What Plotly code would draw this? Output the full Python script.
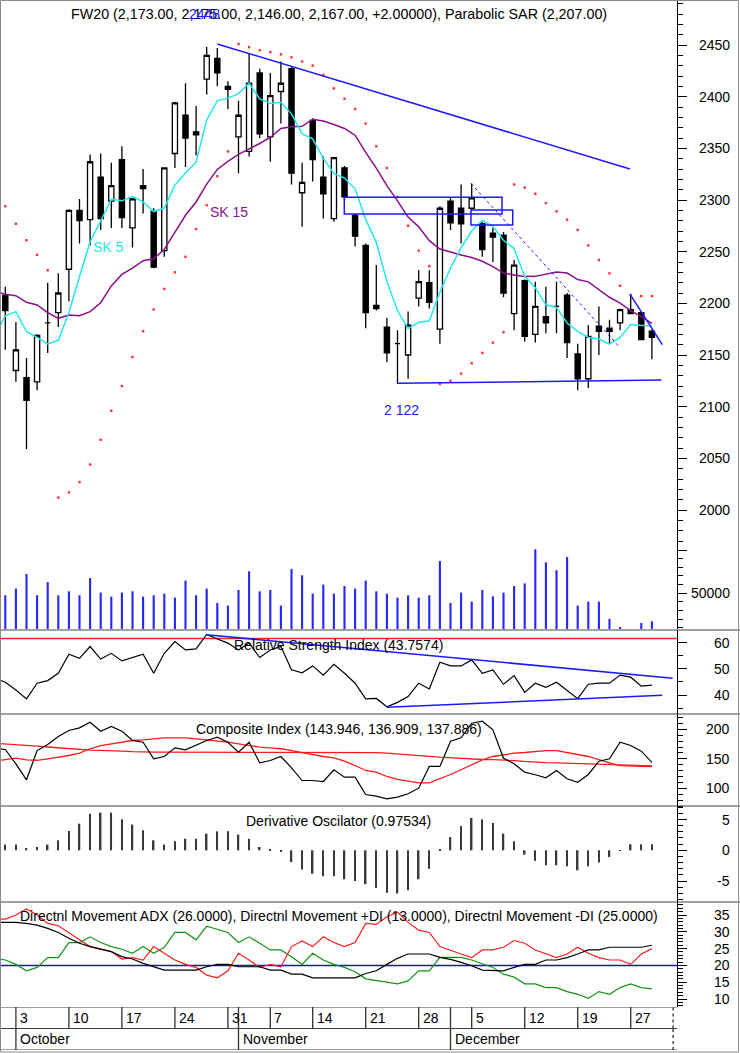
import plotly.graph_objects as go

W, H = 740, 1053
PLOT_W = 677

# ---------------- data ----------------
days = list(range(62))
line_days = list(range(-1, 62))

opens = [2208,2135,2128,2124,2181,2191,2233,2290,2281,2322,2299,2339,2273,2314,2289,2251,2345,2382,2366,2417,
         2437,2410,2361,2347,2423,2361,2405,2427,2307,2377,2322,2282,2331,2285,2256,2198,2177,2161,2150,2205,
         2220,2175,2299,2292,2292,2277,2268,2266,2190,2222,2170,2187,2197,2208,2151,2127,2178,2176,2181,2194,2191,2173]
highs = [2216,2182,2147,2170,2220,2229,2291,2301,2344,2345,2336,2352,2302,2330,2292,2331,2395,2413,2391,2448,
         2447,2415,2396,2442,2427,2423,2434,2429,2336,2379,2342,2341,2333,2287,2258,2237,2186,2174,2192,2232,
         2232,2294,2303,2315,2316,2279,2273,2269,2242,2223,2221,2216,2221,2210,2161,2179,2197,2184,2195,2209,2192,2175]
lows = [2155,2124,2059,2116,2152,2177,2202,2258,2256,2271,2273,2273,2254,2287,2234,2245,2331,2332,2343,2402,
        2410,2388,2326,2342,2360,2337,2374,2315,2274,2318,2282,2279,2300,2255,2176,2193,2143,2122,2127,2197,
        2195,2161,2271,2258,2290,2245,2240,2206,2174,2163,2162,2171,2171,2147,2116,2118,2150,2161,2174,2190,2165,2146]
closes = [2193,2155,2106,2169,2181,2210,2290,2280,2337,2282,2314,2283,2301,2311,2235,2331,2394,2360,2363,2440,
          2423,2407,2382,2413,2364,2401,2413,2326,2317,2339,2306,2341,2303,2265,2191,2195,2152,2161,2179,2221,
          2201,2292,2278,2277,2302,2252,2264,2210,2237,2168,2197,2181,2197,2162,2127,2168,2173,2173,2194,2190,2165,2167]

sk5 = [2168,2188,2192,2172.5,2167,2160.8,2164.2,2191.2,2226,2259.6,2279.8,2300.6,2299.2,2303.4,2298.2,2288.8,
       2292.2,2314.4,2326.2,2336.6,2377.6,2396,2398.6,2403,2413,2397.8,2393.4,2394.6,2383.4,2364.2,2359.2,2340.2,
       2325.8,2321.2,2310.8,2281.2,2259,2221.2,2192.8,2175.6,2181.6,2182.8,2210.8,2234.2,2253.8,2270,2280.2,
       2274.6,2261,2253,2226.2,2215.2,2198.6,2196,2181,2172.8,2167,2165.4,2160.6,2167,2179.6,2179,2177.8]
sk15 = [2212,2208.7,2207.4,2201,2198.4,2191,2185.5,2188.7,2188,2192,2200.6,2216.8,2228,2234,2241.3,2243.1,
        2252.3,2268.3,2285.2,2298.1,2315.4,2329.6,2337.4,2344.2,2349.3,2354.7,2360.5,2369.2,2370.9,2371.3,2378.2,
        2376.5,2373,2369.2,2362.7,2346.1,2330.9,2313.9,2299.1,2283.5,2274,2260.7,2252.6,2249.4,2246.7,2244.3,
        2240.7,2235.5,2229.3,2227.5,2225.9,2226.1,2228,2230.4,2229.3,2223,2220.8,2212.9,2205.9,2200.3,2192.9,2187.1,2180.6]
sar = [2294,2277,2261,2247,2232,2012,2017,2027,2044,2068,2096,2120,2148,2173,2194,2214,2230,2245,2272,2295,
       2323,2347,2451,2448,2445,2443,2441,2438,2434,2430,2421,2408,2398,2388,2374,2352,2331,2303,2275,2251,
       2236,2122,2125,2132,2142,2152,2162,2172,2315,2312,2306,2297,2289,2281,2271,2256,2242,2229,2217,2208,2207,2207]
volume = [47700,55400,72300,47700,63000,47700,52300,47700,67600,50800,46200,50800,52300,46200,47700,49600,
          45000,64600,47700,55400,38800,35800,53800,75400,52300,53800,35800,78100,70800,49600,60000,49600,
          58400,55400,64600,52300,49600,45000,47700,45000,47700,87300,38800,50800,40400,53800,46500,50800,
          58400,61500,100800,85800,76600,91900,35800,40400,40400,20400,11100,0,15700,17700]

rsi = [46.5,44.9,41.9,38.5,44.5,45.5,48.3,55.6,54.0,58.5,53.7,55.9,53.0,54.3,55.6,48.3,55.9,60.4,57.2,57.6,
       63.1,61.4,59.8,57.2,59.8,54.3,57.2,58.5,49.6,48.5,51.1,47.6,51.7,48.3,44.5,38.5,38.7,35.5,37.2,39.4,
       44.5,42.3,52.5,51.1,51.1,53.4,48.3,49.6,44.1,47.4,41.0,44.5,42.9,44.9,41.9,38.6,44.1,44.5,44.5,47.6,
       46.8,43.4,43.76]
rsi_level = 61.6

ci = [168,165.8,141.5,114.4,164,174.2,187.8,198,202.5,212,196.8,204.7,196.8,181,178.1,150,153.9,168.6,165.3,
      172.5,181,186.6,178.1,161.2,178.1,143.2,147.1,153.9,134.7,113.2,113.2,111.5,131.4,118.8,118.8,89.5,86.6,
      82.2,85,90.7,100.2,137,137,179.8,185.6,210.3,213.7,199.2,151,141.5,127.3,122.9,117.8,130.2,116.1,110.3,
      123.4,145.9,150,178.1,172.5,162.9,143.95]
ci_slow = [176.5,175.5,174,172.5,171.5,170,168.6,167,165.3,164.8,164.3,164,163,162,161.2,161.2,161.2,161.2,
           161.2,161.2,161.2,161.5,161.5,161.5,161.5,161.5,161.5,161.5,161.3,161.2,161,161,160.8,160.7,160.7,
           160.7,160.5,159.5,158.4,157.3,155.8,154.2,152.7,151.5,150.3,149.3,148.8,148.5,148.3,147,145.6,144.2,
           143.6,143,142.5,141.6,140.7,139.8,139.4,139,138.6,138.3,137.89]
ci_fast = [146,148,151,148.3,147.5,150,152.7,155.6,159.5,167,172.5,175.4,179.3,181,182.2,183.9,185.6,185.6,
           185.6,183.9,182.2,181,178.1,175.4,172.5,169.7,168.5,167,164,160.2,157.3,153.9,151.7,146,138.6,130.2,
           127.3,120,115,111.5,109.3,109.3,116.1,123.4,131.4,139.8,148.3,153.9,157.3,159.5,160.7,162.4,164,164,
           161.2,157.3,153.9,148.3,143.2,138.6,137.5,137.2,136.91]

deriv = [0.93,0.93,0.38,0.54,0.93,1.62,3.14,4.33,5.95,6.12,6.12,5.03,4.17,3.25,1.62,0.93,1.46,1.89,1.89,2.7,
         3.08,3.08,2.54,1.89,0.54,0.1,-0.2,-1.9,-3.1,-3.8,-4.2,-4.2,-4.7,-5.0,-5.5,-6.1,-6.9,-7.0,-6.5,-4.7,
         -3.0,0.15,2.16,3.95,5.25,5.03,4.44,2.7,1.46,-0.7,-1.73,-2.43,-2.43,-2.6,-3.25,-2.6,-2.0,-1.08,-0.1,0.97,
         0.97,0.975]

adx = [32.8,32.8,32.8,32.5,32.0,31.0,29.8,28.1,26.6,25.6,24.9,24.1,22.6,21.9,20.6,19.6,18.6,18.6,18.6,18.6,
       19.6,20.3,20.3,19.6,19.6,19.6,18.6,18.6,17.4,17.4,16.3,16.3,16.3,16.3,16.3,17.6,18.4,20.3,22.1,23.4,
       23.4,23.4,22.4,21.8,20.9,19.9,18.6,18.4,18.4,19.4,20.3,20.3,21.6,21.6,22.3,23.4,24.6,24.6,25.4,25.4,
       25.4,25.4,26.0]
minus_di = [33.8,33.8,35.0,36.8,35.0,32.5,31.8,29.6,27.6,25.6,24.9,24.1,21.9,22.3,21.6,25.6,23.6,21.6,20.3,
            19.4,17.1,16.3,18.4,23.6,21.6,19.4,20.3,19.6,25.6,27.3,25.6,28.5,26.8,25.6,26.8,32.5,32.2,34.5,35.8,
            32.8,30.5,29.8,25.6,24.6,23.4,22.3,24.6,24.6,25.4,27.4,26.6,24.6,23.4,22.3,23.4,25.4,23.6,22.3,21.6,
            21.6,20.3,23.4,25.0]
plus_di = [22.2,21.6,20.3,18.4,19.4,22.3,22.3,26.8,26.8,28.5,26.8,25.6,24.8,23.6,25.6,23.6,25.4,29.8,29.8,
           27.6,31.7,30.8,29.8,26.8,28.5,26.6,24.6,24.6,22.6,20.3,23.6,21.6,20.3,19.4,18.1,16.0,15.5,15.2,14.5,
           15.4,18.4,18.4,22.4,22.4,22.4,21.6,20.6,19.4,17.4,16.5,14.5,14.5,13.4,13.4,12.2,11.4,10.2,12.2,11.4,
           13.4,14.5,13.4,13.0]
dmi_level = 20

week_ticks = [1, 6, 11, 16, 21, 25, 29, 34, 39, 44, 49, 54, 59, 63]
week_labels = ['3', '10', '17', '24', '31', '7', '14', '21', '28', '5', '12', '19', '27', '']
month_ticks = [1, 22, 42, 63]
month_labels = ['October', 'November', 'December', '']

price_ticks = [2000, 2050, 2100, 2150, 2200, 2250, 2300, 2350, 2400, 2450]
vol_ticks = [50000, 100000]
vol_labels = ['50000', '']
rsi_ticks = [40, 50, 60]
ci_ticks = [100, 150, 200]
deriv_ticks = [-5, 0, 5]
dmi_ticks = [10, 15, 20, 25, 30, 35]

# hand-drawn analysis objects (data coordinates)
price_trendlines = [(20.0, 2451, 58.93, 2330), (36.98, 2122.6, 61.9, 2125.8), (58.93, 2209, 61.98, 2160)]
price_dotted = [(43.93, 2316, 58.0, 2157)]
price_boxes = [(31.98, 2302.6, 46.86, 2286.5), (43.93, 2290.3, 47.87, 2275.8)]
rsi_trendlines = [(18.96, 63.0, 62.96, 46.4), (35.98, 35.3, 61.98, 39.9)]
high_label = (18.8, '2448')
low_label = (37.4, 2096.8, '2 122')
sk5_label = (9.7, 2254.5, 'SK 5')
sk15_label = (21.1, 2288.4, 'SK 15')

title_text = 'FW20 (2,173.00, 2,175.00, 2,146.00, 2,167.00, +2.00000), Parabolic SAR (2,207.00)'
rsi_title = 'Relative Strength Index (43.7574)'
ci_title = 'Composite Index (143.946, 136.909, 137.886)'
deriv_title = 'Derivative Oscilator (0.97534)'
dmi_title = ('Directnl Movement ADX (26.0000), Directnl Movement +DI (13.0000), '
             'Directnl Movement -DI (25.0000)')

# ---------------- styling / layout helpers ----------------
FONT = 'Liberation Sans, Arial, sans-serif'
BLUE = '#1a1aff'


def pyf(px):
    return 1 - px / H


def dom(top, bottom):
    return [1 - bottom / H, 1 - top / H]


def yaxis(top, bottom, rng, majors, minor_dtick, line=True):
    return dict(domain=dom(top, bottom), range=rng, anchor='x', side='right',
                showgrid=False, zeroline=False, showline=line, linecolor='black', linewidth=1,
                ticks='outside' if line else '', ticklen=9, tickwidth=1, tickcolor='black',
                tickmode='array', tickvals=majors, showticklabels=False, fixedrange=True,
                minor=dict(ticks='outside' if line else '', ticklen=5, tickwidth=1, tickcolor='black',
                           tickmode='linear', tick0=0, dtick=minor_dtick))


# pixel calibrations of each panel
price_rng = [2450 - (540 - 45) / (465 / 450), 2450 + 45 / (465 / 450)]
vol_rng = [50000 - (629 - 593.3) / 0.000866, 50000 + (593.3 - 540) / 0.000866]
rsi_rng = [60 - (714 - 642.6) / 2.62, 60 + (642.6 - 630) / 2.62]
ci_rng = [200 - (806 - 729.3) / 0.59, 200 + (729.3 - 714) / 0.59]
der_rng = [-(902 - 850.3) / 6.16, (850.3 - 806) / 6.16]
dmi_rng = [10 - (1007 - 999) / 3.36, 10 + (999 - 902) / 3.36]
x_rng = [-0.5, (PLOT_W - 5.3) / 10.6]

fig = go.Figure()

# price panel
fig.add_trace(go.Candlestick(
    x=days, open=opens, high=highs, low=lows, close=closes, whiskerwidth=0,
    increasing=dict(line=dict(color='black', width=1.3), fillcolor='white'),
    decreasing=dict(line=dict(color='black', width=1.3), fillcolor='black'),
    xaxis='x', yaxis='y', showlegend=False, hoverinfo='skip'))
fig.add_trace(go.Scatter(x=line_days, y=sk15, mode='lines', line=dict(color='#8b108b', width=1.5),
                         xaxis='x', yaxis='y', showlegend=False, hoverinfo='skip'))
fig.add_trace(go.Scatter(x=line_days, y=sk5, mode='lines', line=dict(color='#22e8ee', width=1.5),
                         xaxis='x', yaxis='y', showlegend=False, hoverinfo='skip'))
fig.add_trace(go.Scatter(x=days, y=sar, mode='markers',
                         marker=dict(color='#ff3030', size=2.4, symbol='square', line=dict(width=0)),
                         xaxis='x', yaxis='y', showlegend=False, hoverinfo='skip'))

# volume
fig.add_trace(go.Bar(x=days, y=volume, width=0.2, marker=dict(color='#2626ff', line=dict(width=0)),
                     xaxis='x', yaxis='y2', showlegend=False, hoverinfo='skip'))

# RSI
fig.add_trace(go.Scatter(x=line_days, y=rsi, mode='lines', line=dict(color='black', width=1.2),
                         xaxis='x', yaxis='y3', showlegend=False, hoverinfo='skip'))

# Composite index
fig.add_trace(go.Scatter(x=line_days, y=ci_slow, mode='lines', line=dict(color='#ff1a1a', width=1.3),
                         xaxis='x', yaxis='y4', showlegend=False, hoverinfo='skip'))
fig.add_trace(go.Scatter(x=line_days, y=ci_fast, mode='lines', line=dict(color='#ff1a1a', width=1.3),
                         xaxis='x', yaxis='y4', showlegend=False, hoverinfo='skip'))
fig.add_trace(go.Scatter(x=line_days, y=ci, mode='lines', line=dict(color='black', width=1.2),
                         xaxis='x', yaxis='y4', showlegend=False, hoverinfo='skip'))

# Derivative oscillator
fig.add_trace(go.Bar(x=days, y=deriv, width=0.14, marker=dict(color='#3a3a3a', line=dict(width=0)),
                     xaxis='x', yaxis='y5', showlegend=False, hoverinfo='skip'))

# DMI
fig.add_trace(go.Scatter(x=line_days, y=plus_di, mode='lines', line=dict(color='#149414', width=1.2),
                         xaxis='x', yaxis='y6', showlegend=False, hoverinfo='skip'))
fig.add_trace(go.Scatter(x=line_days, y=minus_di, mode='lines', line=dict(color='#ff1a1a', width=1.2),
                         xaxis='x', yaxis='y6', showlegend=False, hoverinfo='skip'))
fig.add_trace(go.Scatter(x=line_days, y=adx, mode='lines', line=dict(color='black', width=1.2),
                         xaxis='x', yaxis='y6', showlegend=False, hoverinfo='skip'))

shapes = []
# level lines
shapes.append(dict(type='line', xref='paper', x0=0, x1=1, yref='y3', y0=rsi_level, y1=rsi_level,
                   line=dict(color='#ff2020', width=1.5), layer='below'))
shapes.append(dict(type='line', xref='paper', x0=0, x1=1, yref='y6', y0=dmi_level, y1=dmi_level,
                   line=dict(color='#1010e0', width=1.5), layer='below'))
# drawn trendlines
for x0, y0, x1, y1 in price_trendlines:
    shapes.append(dict(type='line', xref='x', yref='y', x0=x0, y0=y0, x1=x1, y1=y1,
                       line=dict(color=BLUE, width=1.5)))
for x0, y0, x1, y1 in price_dotted:
    shapes.append(dict(type='line', xref='x', yref='y', x0=x0, y0=y0, x1=x1, y1=y1,
                       line=dict(color=BLUE, width=1, dash='dot')))
for x0, y0, x1, y1 in price_boxes:
    shapes.append(dict(type='rect', xref='x', yref='y', x0=x0, y0=y0, x1=x1, y1=y1,
                       line=dict(color=BLUE, width=1.5), fillcolor='rgba(0,0,0,0)'))
for x0, y0, x1, y1 in rsi_trendlines:
    shapes.append(dict(type='line', xref='x', yref='y3', x0=x0, y0=y0, x1=x1, y1=y1,
                       line=dict(color=BLUE, width=1.5)))

# panel separators
for px in [630, 714, 806, 902]:
    shapes.append(dict(type='line', xref='paper', x0=0, x1=W / PLOT_W, yref='paper', y0=pyf(px), y1=pyf(px),
                       line=dict(color='#404040', width=1)))
# date rows
for yv in [2, 1, 0]:
    shapes.append(dict(type='line', xref='paper', x0=0, x1=1, yref='y7', y0=yv, y1=yv,
                       line=dict(color='#404040', width=1)))
for t, lab in zip(week_ticks, week_labels):
    shapes.append(dict(type='line', xref='x', x0=t, x1=t, yref='y7', y0=1, y1=2,
                       line=dict(color='#303030', width=1.3, dash='solid' if lab else 'dot')))
for t, lab in zip(month_ticks, month_labels):
    shapes.append(dict(type='line', xref='x', x0=t, x1=t, yref='y7', y0=0, y1=1 if t in week_ticks else 2,
                       line=dict(color='#303030', width=1.3, dash='solid' if lab else 'dot')))
# outer border
shapes.append(dict(type='rect', xref='paper', yref='paper', x0=0.5 / PLOT_W, x1=738.5 / PLOT_W,
                   y0=pyf(1052), y1=pyf(0.5), line=dict(color='#8a8a8a', width=1)))

annotations = []


def txt(text, x, y, xref, yref, color='black', size=14, xanchor='center'):
    annotations.append(dict(text=text, x=x, y=y, xref=xref, yref=yref, showarrow=False,
                            xanchor=xanchor, yanchor='middle',
                            font=dict(family=FONT, size=size, color=color)))


# right-hand tick labels (right aligned)
LX = 732 / PLOT_W
for v in price_ticks:
    txt(str(v), LX, v, 'paper', 'y', xanchor='right')
for v, lab in zip(vol_ticks, vol_labels):
    if lab:
        txt(lab, LX, v, 'paper', 'y2', xanchor='right')
for v in rsi_ticks:
    txt(str(v), LX, v, 'paper', 'y3', xanchor='right')
for v in ci_ticks:
    txt(str(v), LX, v, 'paper', 'y4', xanchor='right')
for v in deriv_ticks:
    txt(str(v), LX, v, 'paper', 'y5', xanchor='right')
for v in dmi_ticks:
    txt(str(v), LX, v, 'paper', 'y6', xanchor='right')

# titles
txt(title_text, 0.5, pyf(14), 'paper', 'paper', size=14.3)
txt(high_label[1], high_label[0], pyf(14), 'x', 'paper', color=BLUE)
txt(rsi_title, 0.5, pyf(645), 'paper', 'paper')
txt(ci_title, 0.5, pyf(729), 'paper', 'paper')
txt(deriv_title, 0.5, pyf(821), 'paper', 'paper')
txt(dmi_title, 0.5, pyf(916), 'paper', 'paper')

# chart labels
txt(sk5_label[2], sk5_label[0], sk5_label[1], 'x', 'y', color='#22e8ee')
txt(sk15_label[2], sk15_label[0], sk15_label[1], 'x', 'y', color='#8b108b')
txt(low_label[2], low_label[0], low_label[1], 'x', 'y', color=BLUE)

# date labels
for t, lab in zip(week_ticks, week_labels):
    if lab:
        txt(lab, t + 0.2, 1.5, 'x', 'y7', xanchor='left')
for t, lab in zip(month_ticks, month_labels):
    if lab:
        txt(lab, t + 0.2, 0.5, 'x', 'y7', xanchor='left')

fig.update_layout(
    width=W, height=H, margin=dict(l=0, r=W - PLOT_W, t=0, b=0, pad=0),
    paper_bgcolor='white', plot_bgcolor='white', showlegend=False, hovermode=False,
    font=dict(family=FONT, size=14, color='black'),
    xaxis=dict(domain=[0, 1], range=x_rng, anchor='y7', showgrid=False, zeroline=False,
               showline=False, showticklabels=False, ticks='', fixedrange=True,
               rangeslider=dict(visible=False)),
    yaxis=yaxis(0, 540, price_rng, price_ticks, 10),
    yaxis2=yaxis(540, 629, vol_rng, vol_ticks, 10000),
    yaxis3=yaxis(630, 714, rsi_rng, rsi_ticks, 5),
    yaxis4=yaxis(714, 806, ci_rng, ci_ticks, 10),
    yaxis5=yaxis(806, 902, der_rng, deriv_ticks, 1),
    yaxis6=yaxis(902, 1007, dmi_rng, dmi_ticks, 1),
    yaxis7=yaxis(1007, 1050, [0, 2], [], 1, line=False),
    shapes=shapes, annotations=annotations,
)

fig.write_html('out.html')
